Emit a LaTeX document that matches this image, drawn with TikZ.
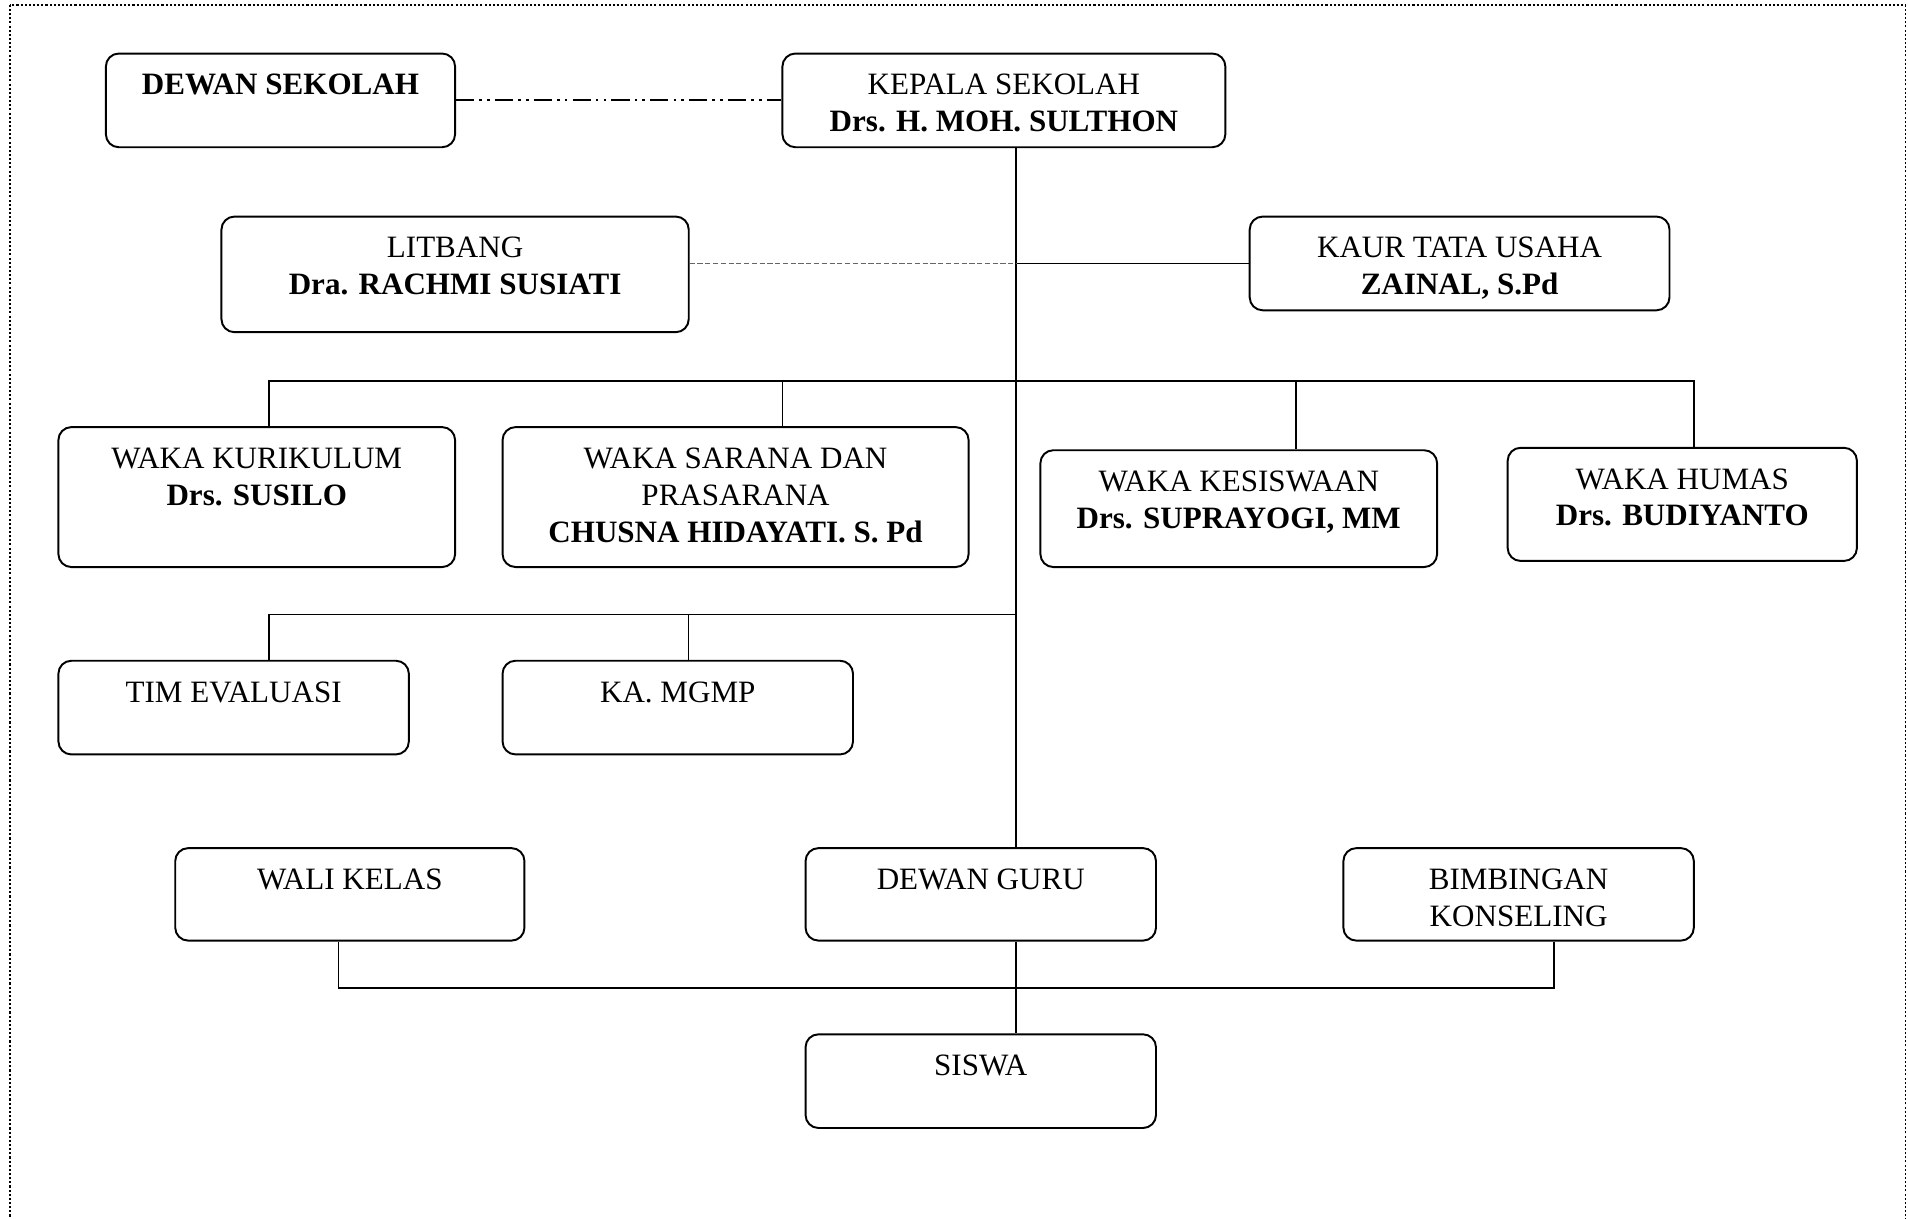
\documentclass[tikz,border=0pt]{standalone}
\usepackage{fontspec}
\setmainfont{Liberation Serif}
\usetikzlibrary{positioning}
\newlength\pxu
\setlength\pxu{0.47pt}
% box content: width, height, lines (set from the top)
\newcommand{\boxtext}[3]{\parbox[c][#2\pxu][t]{#1\pxu}{\centering\rule{0pt}{34\pxu}#3}}

\begin{document}
\begin{tikzpicture}[x=0.47pt,y=-0.47pt,
                    box/.style={draw,rounded corners=5pt,inner sep=0pt,line width=0.75pt,
                                font=\fontsize{12}{14.2}\selectfont},
                    link/.style={line width=0.55pt}
                   ]
   \useasboundingbox (0,0) rectangle (1568,1001);
   \draw[dash pattern=on 0.8pt off 0.8pt,line width=0.6pt] (8,4) rectangle (1566,1030);

   \node[box] (dewan) at (230.5,82.5) {\boxtext{287}{77}{\textbf{DEWAN SEKOLAH}}};
   \node[box] (kepala) at (825,82.5) {\boxtext{364}{77}{KEPALA SEKOLAH\\\textbf{Drs. H. MOH. SULTHON}}};
   \node[box] (litbang) at (374,225.5) {\boxtext{384}{95}{LITBANG\\\textbf{Dra. RACHMI SUSIATI}}};
   \node[box] (kaur) at (1199.5,216.5) {\boxtext{345}{77}{KAUR TATA USAHA\\\textbf{ZAINAL, S.Pd}}};
   \node[box] (kurikulum) at (211,408.5) {\boxtext{326}{115}{WAKA KURIKULUM\\\textbf{Drs. SUSILO}}};
   \node[box] (sarana) at (604.5,408.5) {\boxtext{383}{115}{WAKA SARANA DAN\\PRASARANA\\\textbf{CHUSNA HIDAYATI. S. Pd}}};
   \node[box] (kesiswaan) at (1018,418) {\boxtext{326}{96}{WAKA KESISWAAN\\\textbf{Drs. SUPRAYOGI, MM}}};
   \node[box] (humas) at (1382.5,414.5) {\boxtext{287}{93}{WAKA HUMAS\\\textbf{Drs. BUDIYANTO}}};
   \node[box] (evaluasi) at (192,581.5) {\boxtext{288}{77}{TIM EVALUASI}};
   \node[box] (mgmp) at (557,581.5) {\boxtext{288}{77}{KA. MGMP}};
   \node[box] (wali) at (287.5,735) {\boxtext{287}{76}{WALI KELAS}};
   \node[box] (guru) at (806,735) {\boxtext{288}{76}{DEWAN GURU}};
   \node[box] (bk) at (1248,735) {\boxtext{288}{76}{BIMBINGAN\\KONSELING}};
   \node[box] (siswa) at (806,888.5) {\boxtext{288}{77}{SISWA}};

   \coordinate (spine) at (835,313);
   \coordinate (bus1) at (221,313);
   \coordinate (bus2) at (643,313);
   \coordinate (bus3) at (1065,313);
   \coordinate (bus4) at (1392,313);
   \coordinate (sub1) at (221,505);
   \coordinate (sub2) at (566,505);
   \coordinate (foot1) at (278,812);
   \coordinate (foot2) at (1277,812);

   \draw[link,line width=0.8pt,dash pattern=on 7pt off 2pt on 1pt off 2pt on 1pt off 2pt]
      (dewan.east) -- (kepala.west);
   \draw[link] (kepala.south -| spine) -- (guru.north -| spine);
   \draw[link] (guru.south -| spine) -- (siswa.north -| spine);
   \draw[link] (kaur.west) -- (kaur.west -| spine);
   \draw[black!60,line width=0.35pt,dash pattern=on 2pt off 1pt]
      (litbang.east |- kaur.west) -- (kaur.west -| spine);
   \draw[link] (bus1 |- kurikulum.north) -- (bus1) -- (bus4) -- (bus4 |- humas.north);
   \draw[link] (bus2) -- (bus2 |- sarana.north);
   \draw[link] (bus3) -- (bus3 |- kesiswaan.north);
   \draw[link] (evaluasi.north -| sub1) -- (sub1) -- (sub1 -| spine);
   \draw[link] (sub2) -- (sub2 |- mgmp.north);
   \draw[link] (wali.south -| foot1) -- (foot1) -- (foot2) -- (foot2 |- bk.south);
\end{tikzpicture}
\end{document}
